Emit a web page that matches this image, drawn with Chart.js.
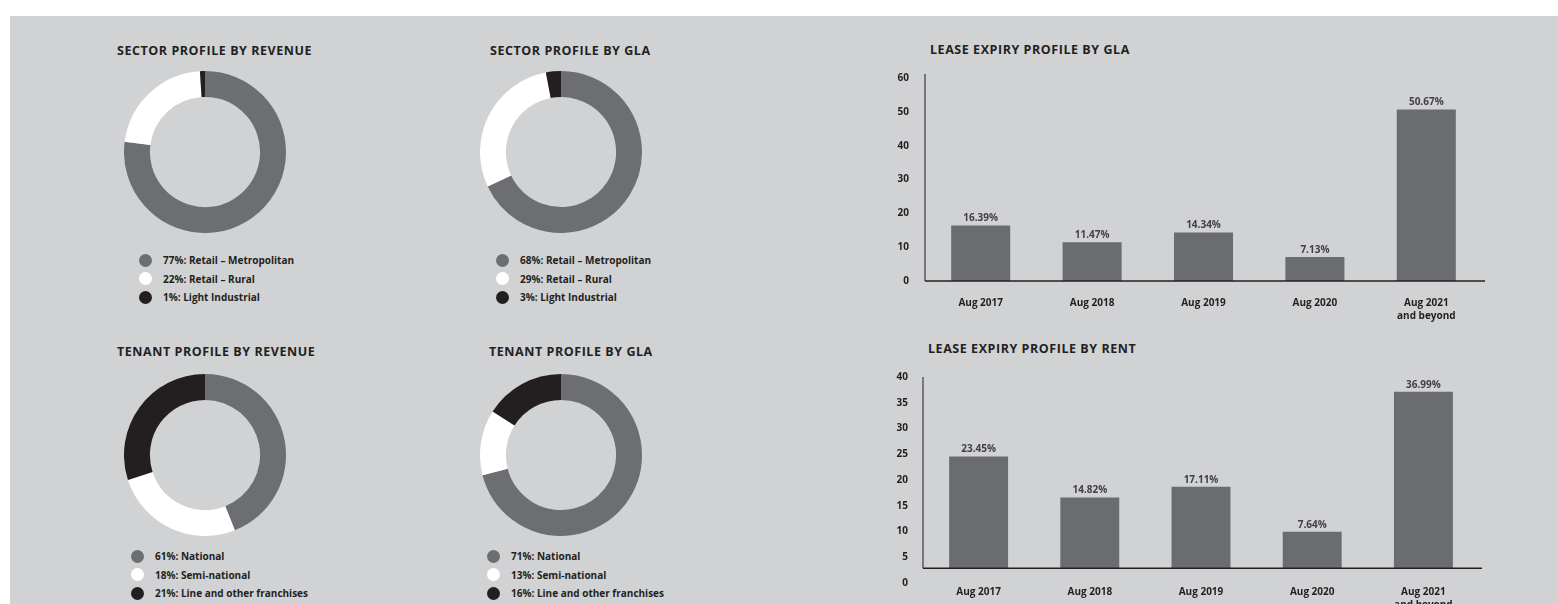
<!DOCTYPE html>
<html>
<head>
<meta charset="utf-8">
<title>Portfolio profile</title>
<script src="https://cdn.jsdelivr.net/npm/chart.js@4.4.0/dist/chart.umd.min.js"></script>
<style>
    body { margin: 0; width: 1558px; height: 604px; overflow: hidden; background: #fff; font-family: "Open Sans", Lato, sans-serif; position: relative; }
    #panel { position: absolute; left: 10px; top: 16px; right: 0; bottom: 0; background: #d1d2d4; }
    .title { position: absolute; font-size: 12.5px; line-height: 12px; letter-spacing: 0.55px; font-weight: 700; color: #231f20; white-space: nowrap; }
    .box { position: absolute; }
    .legend { position: absolute; margin: 0; padding: 0; list-style: none; }
    .legend li { height: 18.6px; display: flex; align-items: center; font-size: 10px; font-weight: 700; color: #231f20; white-space: nowrap; }
    .legend .dot { width: 13px; height: 13px; border-radius: 50%; margin-right: 11px; flex: none; }
</style>
</head>
<body>
<div id="panel"></div>

<div class="title" style="left:117px; top:45px;">SECTOR PROFILE BY REVENUE</div>
<div class="title" style="left:490px; top:45px;">SECTOR PROFILE BY GLA</div>
<div class="title" style="left:117px; top:346px;">TENANT PROFILE BY REVENUE</div>
<div class="title" style="left:489px; top:346px;">TENANT PROFILE BY GLA</div>
<div class="title" style="left:930px; top:44px;">LEASE EXPIRY PROFILE BY GLA</div>
<div class="title" style="left:928px; top:343px;">LEASE EXPIRY PROFILE BY RENT</div>

<div class="box" style="left:124px; top:71px; width:162px; height:162px;"><canvas id="sectorRevenue"></canvas></div>
<div class="box" style="left:480px; top:71px; width:162px; height:162px;"><canvas id="sectorGla"></canvas></div>
<div class="box" style="left:124px; top:374px; width:162px; height:162px;"><canvas id="tenantRevenue"></canvas></div>
<div class="box" style="left:480px; top:374px; width:162px; height:162px;"><canvas id="tenantGla"></canvas></div>

<ul class="legend" id="sectorRevenueLegend" style="left:139px; top:251px;"></ul>
<ul class="legend" id="sectorGlaLegend" style="left:496px; top:251px;"></ul>
<ul class="legend" id="tenantRevenueLegend" style="left:131px; top:547px;"></ul>
<ul class="legend" id="tenantGlaLegend" style="left:487px; top:547px;"></ul>

<div class="box" style="left:877px; top:52px; width:613px; height:270px;"><canvas id="expiryGla"></canvas></div>
<div class="box" style="left:875px; top:356px; width:610px; height:248px;"><canvas id="expiryRent"></canvas></div>

<script>
// ===============================================
// DATA
// ===============================================
const SLICE_COLORS = ["#6d6e71", "#ffffff", "#231f20"];
const BAR_COLOR = "#6b6c6f";

const sectorRevenueValues = [77, 22, 1];
const sectorRevenueLabels = ["77%: Retail – Metropolitan", "22%: Retail – Rural", "1%: Light Industrial"];

const sectorGlaValues = [68, 29, 3];
const sectorGlaLabels = ["68%: Retail – Metropolitan", "29%: Retail – Rural", "3%: Light Industrial"];

// the printed legend says 61 / 18 / 21, but the ring itself is drawn at roughly 44 / 26 / 30
const tenantRevenueValues = [44, 26, 30];
const tenantRevenueLabels = ["61%: National", "18%: Semi-national", "21%: Line and other franchises"];

const tenantGlaValues = [71, 13, 16];
const tenantGlaLabels = ["71%: National", "13%: Semi-national", "16%: Line and other franchises"];

const expiryYears = ["Aug 2017", "Aug 2018", "Aug 2019", "Aug 2020", ["Aug 2021", "and beyond"]];
const expiryGlaValues = [16.39, 11.47, 14.34, 7.13, 50.67];
const expiryRentValues = [23.45, 14.82, 17.11, 7.64, 36.99];

const glaTicks = [0, 10, 20, 30, 40, 50, 60];
const rentTicks = [0, 5, 10, 15, 20, 25, 30, 35, 40];

const FONT = "'Open Sans', Lato, sans-serif";
Chart.defaults.font.family = FONT;
Chart.defaults.color = "#231f20";

// ===============================================
// PLUGINS
// ===============================================
// percentage printed above each bar
const barValueLabels = {
    id: "barValueLabels",
    afterDatasetsDraw(chart) {
        const ctx = chart.ctx;
        const values = chart.data.datasets[0].data;
        ctx.save();
        ctx.font = "bold 10px " + FONT;
        ctx.fillStyle = "#414143";
        ctx.textAlign = "center";
        ctx.textBaseline = "bottom";
        chart.getDatasetMeta(0).data.forEach((bar, i) => {
            ctx.fillText(values[i].toFixed(2) + "%", bar.x, bar.y - 2);
        });
        ctx.restore();
    }
};

// y line stops at zero, x line sits on zero
const axisLines = {
    id: "axisLines",
    afterDatasetsDraw(chart) {
        const { ctx, chartArea, scales } = chart;
        const zeroY = scales.y.getPixelForValue(0);
        ctx.save();
        ctx.lineWidth = 1.5;
        ctx.strokeStyle = "#58595b";
        ctx.beginPath();
        ctx.moveTo(chartArea.left, chartArea.top);
        ctx.lineTo(chartArea.left, zeroY);
        ctx.stroke();
        ctx.strokeStyle = "#231f20";
        ctx.beginPath();
        ctx.moveTo(chartArea.left, zeroY);
        ctx.lineTo(chartArea.right + 3, zeroY);
        ctx.stroke();
        ctx.restore();
    }
};

// ===============================================
// DONUTS
// ===============================================
function crearDona(canvasId, values, labels) {
    const chart = new Chart(document.getElementById(canvasId), {
        type: "doughnut",
        data: {
            labels: labels,
            datasets: [{
                data: values,
                backgroundColor: SLICE_COLORS,
                borderWidth: 0,
                hoverOffset: 0,
            }],
        },
        options: {
            responsive: true,
            maintainAspectRatio: false,
            animation: false,
            cutout: "68%",
            layout: { padding: 0 },
            plugins: {
                legend: { display: false },
                tooltip: { enabled: false },
            },
        },
    });

    // html legend built from the chart's own labels and colours
    const ul = document.getElementById(canvasId + "Legend");
    chart.data.labels.forEach((text, i) => {
        const li = document.createElement("li");
        const dot = document.createElement("span");
        dot.className = "dot";
        dot.style.background = chart.data.datasets[0].backgroundColor[i];
        li.appendChild(dot);
        li.appendChild(document.createTextNode(text));
        ul.appendChild(li);
    });
}

// ===============================================
// BARS
// ===============================================
function crearBarras(canvasId, values, cfg) {
    new Chart(document.getElementById(canvasId), {
        type: "bar",
        data: {
            labels: expiryYears,
            datasets: [{
                data: values,
                backgroundColor: BAR_COLOR,
                borderWidth: 0,
                barPercentage: 0.53,
                categoryPercentage: 1,
            }],
        },
        options: {
            responsive: true,
            maintainAspectRatio: false,
            animation: false,
            layout: { padding: cfg.padding },
            plugins: {
                legend: { display: false },
                tooltip: { enabled: false },
            },
            scales: {
                x: {
                    grid: { display: false, drawTicks: false },
                    border: { display: false },
                    ticks: {
                        padding: cfg.xPadding,
                        maxRotation: 0,
                        autoSkip: false,
                        color: "#231f20",
                        font: { size: 10, weight: "bold", lineHeight: 1.3 },
                    },
                    afterFit: (scale) => { scale.height = cfg.xHeight; },
                },
                y: {
                    min: cfg.min,
                    max: cfg.max,
                    grid: { display: false, drawTicks: false },
                    border: { display: false },
                    afterFit: (scale) => { scale.width = 48; },
                    afterBuildTicks: (axis) => {
                        const n = cfg.ticks.length - 1;
                        // the rent chart prints its labels evenly down the full axis, like the original
                        axis.ticks = cfg.ticks.map((v, i) => ({
                            value: cfg.spread ? axis.min + (axis.max - axis.min) * i / n : v,
                        }));
                    },
                    ticks: {
                        padding: cfg.yPadding,
                        color: "#231f20",
                        font: { size: 10, weight: "bold" },
                        callback: (value, index) => cfg.ticks[index],
                    },
                },
            },
        },
        plugins: [barValueLabels, axisLines],
    });
}

// ===============================================
// INIT
// ===============================================
crearDona("sectorRevenue", sectorRevenueValues, sectorRevenueLabels);
crearDona("sectorGla", sectorGlaValues, sectorGlaLabels);
crearDona("tenantRevenue", tenantRevenueValues, tenantRevenueLabels);
crearDona("tenantGla", tenantGlaValues, tenantGlaLabels);

crearBarras("expiryGla", expiryGlaValues, {
    min: 0, max: 61.2, ticks: glaTicks, spread: false,
    padding: { top: 0, right: 8, left: 0, bottom: 0 },
    xHeight: 41, xPadding: 16, yPadding: 16,
});

crearBarras("expiryRent", expiryRentValues, {
    min: -3.08, max: 40.1, ticks: rentTicks, spread: true,
    padding: { top: 0, right: 6, left: 0, bottom: 0 },
    xHeight: 21, xPadding: 3, yPadding: 15,
});
</script>
</body>
</html>
